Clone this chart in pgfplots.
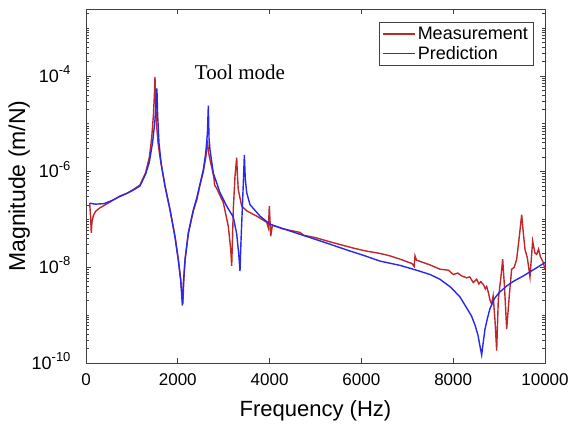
\documentclass[border=0pt]{standalone}
\usepackage{pgfplots}
\pgfplotsset{compat=1.18}
\usepackage{pgfplotstable}
\usepackage{fontspec}
\setmainfont{Liberation Sans}
\newfontfamily\timesfont{Liberation Serif}

\definecolor{meas}{RGB}{190,40,40}
\definecolor{pred}{RGB}{40,40,238}

% y tick label 10^k, large exponent as in the original
\newcommand\tenpow[1]{\fontsize{18}{18}\selectfont 10\raisebox{0.42em}{\fontsize{13}{13}\selectfont #1}}

% minor ticks at every 1..9 x 10^k
\xdef\minorlist{1e-9,1e-7,1e-5,1e-3}
\foreach \e in {-10,...,-3}{\foreach \m in {2,...,9}{\xdef\minorlist{\minorlist,\m e\e}}}

% frequency (Hz), log10 of magnitude (m/N)
\pgfplotstableread{
f ly
80 -6.66
100 -6.95
115 -7.28
130 -7.05
160 -6.92
210 -6.83
300 -6.76
390 -6.71
550 -6.62
740 -6.51
900 -6.45
1024 -6.38
1176 -6.28
1300 -6.02
1380 -5.70
1431 -5.30
1470 -4.80
1490 -4.40
1503 -4.02
1515 -4.50
1540 -5.05
1570 -5.40
1612 -5.70
1721 -6.30
1830 -6.79
1939 -7.35
2011 -7.83
2063 -8.25
2090 -8.55
2110 -8.77
2130 -8.30
2157 -7.85
2229 -7.30
2338 -6.82
2411 -6.60
2484 -6.28
2556 -6.00
2610 -5.70
2645 -5.35
2670 -5.60
2702 -5.75
2760 -6.00
2790 -6.15
2800 -6.28
2847 -6.35
2992 -6.65
3100 -7.14
3153 -7.63
3174 -7.97
3195 -7.30
3209 -6.79
3246 -6.10
3270 -5.85
3283 -5.71
3300 -6.10
3318 -6.38
3392 -6.72
3501 -6.82
3719 -6.93
3937 -7.06
3975 -7.18
3994 -6.72
4010 -7.05
4025 -7.35
4060 -7.12
4300 -7.20
4662 -7.27
4740 -7.33
5000 -7.38
5400 -7.49
5752 -7.58
5830 -7.60
6100 -7.66
6405 -7.71
6620 -7.76
6841 -7.83
7100 -7.92
7150 -7.98
7168 -7.76
7200 -7.85
7494 -7.95
7712 -8.04
7894 -8.06
8003 -8.15
8100 -8.12
8185 -8.18
8294 -8.22
8360 -8.20
8439 -8.32
8512 -8.25
8560 -8.35
8600 -8.30
8657 -8.36
8700 -8.45
8729 -8.40
8765 -8.52
8800 -8.68
8838 -8.77
8870 -8.60
8910 -9.10
8947 -9.74
8983 -8.67
9040 -8.20
9078 -7.83
9120 -8.45
9165 -9.29
9230 -8.50
9274 -8.04
9330 -8.00
9383 -7.83
9433 -7.42
9492 -6.90
9530 -7.30
9565 -7.63
9615 -7.80
9673 -8.20
9731 -7.45
9780 -7.70
9819 -7.73
9860 -7.62
9900 -7.78
9964 -7.90
10000 -8.04
}\measured

\pgfplotstableread{
f ly
80 -6.66
200 -6.68
390 -6.67
550 -6.61
740 -6.52
900 -6.45
1024 -6.39
1176 -6.30
1300 -6.05
1380 -5.80
1450 -5.40
1500 -4.95
1525 -4.60
1545 -4.26
1560 -4.80
1590 -5.40
1640 -5.85
1721 -6.30
1830 -6.80
1939 -7.37
2011 -7.85
2063 -8.27
2100 -8.80
2120 -8.35
2157 -7.85
2229 -7.28
2338 -6.80
2411 -6.56
2484 -6.26
2556 -5.96
2610 -5.60
2645 -5.20
2665 -4.62
2680 -5.30
2702 -5.55
2774 -6.03
2919 -6.44
3065 -6.72
3209 -6.95
3283 -7.30
3330 -7.75
3355 -8.08
3375 -7.50
3400 -6.90
3428 -6.23
3450 -5.65
3470 -6.15
3501 -6.44
3573 -6.69
3791 -6.93
4009 -7.10
4662 -7.31
5200 -7.48
5752 -7.66
6045 -7.75
6405 -7.87
6841 -7.96
7200 -8.06
7494 -8.15
7712 -8.25
7950 -8.42
8148 -8.62
8294 -8.85
8400 -9.02
8480 -9.22
8540 -9.42
8590 -9.68
8620 -9.83
8650 -9.60
8693 -9.29
8750 -9.05
8802 -8.86
8900 -8.65
9000 -8.53
9165 -8.39
9300 -8.30
9528 -8.18
9800 -8.02
10000 -7.90
}\predicted

\begin{document}
\begin{tikzpicture}
\begin{axis}[
  scale only axis,
  width=459pt, height=354pt,
  xmin=0, xmax=10000,
  ymode=log, ymin=1e-10, ymax=2.5e-3,
  xtick={0,2000,4000,6000,8000,10000},
  scaled x ticks=false,
  /pgf/number format/1000 sep={},
  /pgf/number format/assume math mode=true,
  ytick={1e-10,1e-8,1e-6,1e-4},
  yticklabels={\tenpow{-10},\tenpow{-8},\tenpow{-6},\tenpow{-4}},
  minor ytick/.expanded={\minorlist},
  tick align=inside,
  major tick length=5pt, minor tick length=3pt,
  tick style={gray!50!black, line width=0.6pt},
  axis line style={gray!50!black, line width=0.8pt},
  xticklabel style={font=\fontsize{17}{17}\selectfont, yshift=-7pt},
  yticklabel style={xshift=-12pt, yshift=2pt},
  xlabel={Frequency (Hz)}, ylabel={Magnitude (m/N)},
  xlabel style={font=\fontsize{22}{22}\selectfont, yshift=-8pt},
  ylabel style={font=\fontsize{23}{23}\selectfont, yshift=-5pt},
  legend style={at={(1,1)}, anchor=north east, xshift=-12pt, yshift=-13pt,
    draw=gray!50!black, font=\fontsize{18}{18}\selectfont,
    inner sep=3pt, row sep=1pt},
  legend cell align=left,
  legend image code/.code={\draw[#1] (0pt,0pt) -- (32pt,0pt);},
]
\addplot[meas, line width=1.4pt, no marks] table[x=f, y expr=10^(\thisrow{ly})] {\measured};
\addlegendentry{Measurement}
\addplot[pred, line width=1.4pt, no marks] table[x=f, y expr=10^(\thisrow{ly})] {\predicted};
\addlegendentry{Prediction}
\node[font=\timesfont\fontsize{21}{21}\selectfont] at (axis cs:3355,1.2e-4) {Tool mode};
\end{axis}
\path ([shift={(-86pt,-65pt)}]current axis.south west) rectangle ([shift={(29pt,9pt)}]current axis.north east);
\end{tikzpicture}
\end{document}
